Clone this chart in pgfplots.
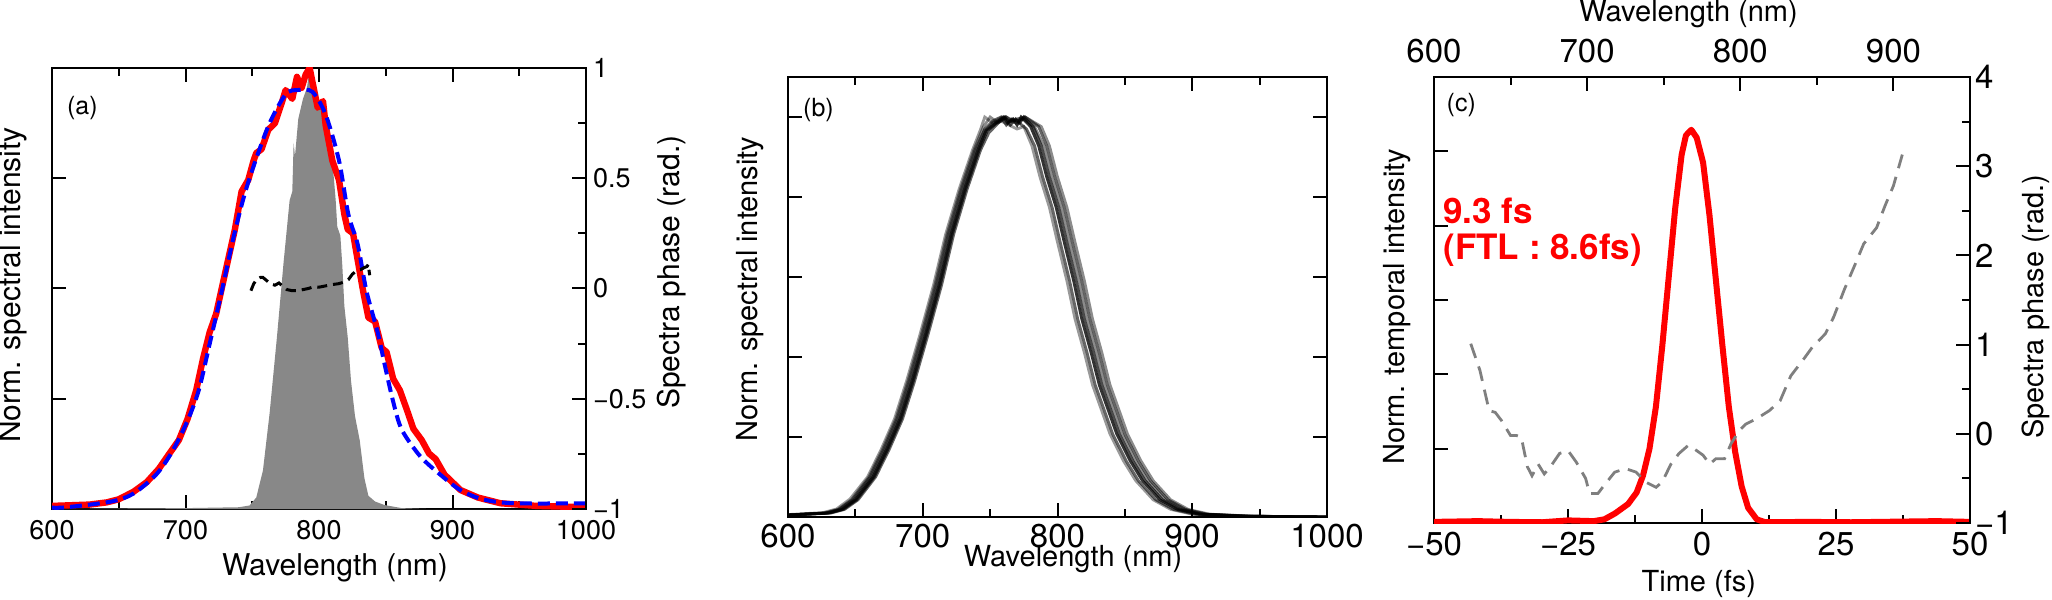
\documentclass[border=0pt]{standalone}
\usepackage{fontspec}
\setmainfont{TeX Gyre Heros}
\usepackage{pgfplots}
\pgfplotsset{compat=1.18}
\definecolor{fillgray}{HTML}{888888}
\definecolor{phasegray}{HTML}{7F7F7F}
\pgfplotsset{
  myaxis/.style={scale only axis, anchor=south west,
    axis line style={line width=1pt}, tick style={line width=1pt,black},
    major tick length=7pt, minor tick length=4pt, tick align=inside},
  bcurve/.style={black, line width=1.4pt, opacity=0.6},
}
\begin{document}
\begin{tikzpicture}
\path[use as bounding box] (0,0) rectangle (1026pt,300pt);

% ---------------- panel (a) ----------------
\begin{axis}[myaxis, at={(26pt,45.5pt)}, width=267pt, height=220.5pt,
  xmin=600, xmax=1000, ymin=0, ymax=1,
  xtick={600,700,800,900,1000}, xticklabels={600,700,800,900,1000},
  minor xtick={650,750,850,950},
  ytick={0.25,0.5,0.75}, yticklabels={}, ytick pos=left,
  xticklabel style={font=\fontsize{13.5}{14}\selectfont, yshift=-2pt},
  xlabel={Wavelength (nm)}, ylabel={Norm. spectral intensity},
  label style={font=\fontsize{15}{16}\selectfont},
  xlabel style={at={(axis description cs:0.53,-0.134)},anchor=center},
  ylabel style={at={(axis description cs:-0.073,0.508)},anchor=center},
]
\addplot[fill=fillgray, draw=none] coordinates {
(600,0) (700,0.002) (740,0.004) (748,0.008) (753,0.026) (758,0.087) (763,0.217)
(768.5,0.39) (773.5,0.56) (778,0.70) (780,0.72) (781,0.83) (782,0.80) (784.5,0.885)
(788,0.93) (791,0.955) (793,1.0) (795,0.98) (797,0.94) (798.7,0.93) (802,0.90)
(805,0.87) (808.7,0.81) (811,0.755) (812.5,0.70) (813.7,0.64) (816,0.62) (817.5,0.55)
(819,0.46) (821.5,0.39) (824,0.29) (827,0.21) (830.5,0.156) (834,0.07) (837,0.03)
(842,0.017) (849,0.009) (862,0.002) (880,0) (1000,0)} \closedcycle;
\addplot[red, line width=3.2pt, line join=round] coordinates {
(600,0.007) (628,0.010) (641,0.015) (650,0.022) (661,0.039) (671,0.061) (680,0.091)
(688,0.126) (695,0.156) (701.5,0.204) (708,0.269) (713,0.339) (718,0.40) (723,0.443)
(728,0.512) (733,0.58) (737,0.634) (742,0.72) (747,0.746) (751,0.79) (753,0.807)
(757,0.816) (762,0.86) (767,0.875) (772,0.92) (775,0.95) (780,0.93) (783.5,0.98)
(787,0.955) (790,0.985) (793,1.0) (796,0.955) (799,0.91) (803,0.925) (805,0.87)
(810,0.79) (815,0.746) (819,0.668) (821.5,0.634) (825.5,0.625) (829,0.564) (833,0.495)
(837,0.434) (842,0.425) (847,0.365) (850.6,0.356) (855.6,0.295) (860.6,0.269)
(865.7,0.226) (870.7,0.182) (877,0.156) (882.4,0.126) (887.4,0.113) (894,0.078)
(906,0.043) (919,0.026) (936,0.013) (963,0.007) (1000,0.004)};
\addplot[blue, line width=2pt, dash pattern=on 6pt off 3pt, smooth] coordinates {
(600,0.003) (611,0.004) (644.6,0.017) (661,0.035) (678,0.078) (690,0.13)
(701.5,0.20) (710,0.27) (718,0.373) (726.6,0.486) (736.7,0.625) (746.7,0.738)
(762,0.868) (775,0.94) (784,0.95) (795,0.946) (805,0.894) (815,0.79) (822,0.668)
(829,0.60) (835.5,0.495) (844,0.40) (849,0.33) (855.6,0.243) (862,0.18)
(875.7,0.12) (890.8,0.078) (905.9,0.043) (922.6,0.022) (946,0.013) (1000,0.013)};
\node[anchor=north west, inner sep=0pt, font=\fontsize{12.5}{13}\selectfont] at (axis cs:611,0.937) {(a)};
\end{axis}
\begin{axis}[myaxis, at={(26pt,45.5pt)}, width=267pt, height=220.5pt,
  xmin=600, xmax=1000, ymin=-1, ymax=1,
  axis x line=none, axis y line*=right,
  ytick={-1,-0.5,0,0.5,1}, yticklabels={−1,−0.5,0,0.5,1},
  minor ytick={-0.75,-0.25,0.25,0.75},
  yticklabel style={font=\fontsize{13.5}{14}\selectfont},
  ylabel={Spectra phase (rad.)},
  ylabel style={font=\fontsize{15}{16}\selectfont, at={(axis description cs:1.161,0.537)},anchor=center},
]
\addplot[black, line width=1.5pt, dash pattern=on 5pt off 3pt] coordinates {
(749,-0.01) (751,0.02) (753,0.04) (756,0.05) (758,0.05) (761,0.035) (764,0.02)
(767,0.015) (770,0.025) (773,0.01) (776,-0.005) (780,-0.01) (784,-0.01) (788,-0.005)
(792,0.0) (796,0.008) (800,0.006) (805,0.012) (810,0.018) (815,0.022) (819,0.03)
(822,0.04) (825,0.065) (828,0.08) (831,0.085) (834,0.095) (836,0.1) (837,0.11)
(837.5,0.08) (838,0.06)};
\end{axis}

% ---------------- panel (b) ----------------
\begin{axis}[myaxis, at={(394pt,41.5pt)}, width=269.5pt, height=220pt,
  xmin=600, xmax=1000, ymin=0, ymax=1.1,
  xtick={600,700,800,900,1000}, xticklabels={600,700,800,900,1000},
  minor xtick={650,750,850,950},
  ytick={0.2,0.4,0.6,0.8,1.0}, yticklabels={},
  xticklabel style={font=\fontsize{16.5}{17}\selectfont},
  xlabel={Wavelength (nm)}, ylabel={Norm. spectral intensity},
  label style={font=\fontsize{14.5}{15}\selectfont},
  xlabel style={at={(axis description cs:0.529,-0.095)},anchor=center},
  ylabel style={at={(axis description cs:-0.0705,0.518)},anchor=center},
]
\addplot[bcurve, opacity=0.4] coordinates {
(600,0.006) (626,0.011) (636,0.020) (646,0.045) (659,0.10) (669,0.168) (679,0.245)
(688,0.34) (698,0.457) (708,0.58) (717,0.707) (727,0.82) (737,0.918) (743,0.97)
(746,1.0) (752,0.985) (758,0.99) (764,0.98) (770,0.97) (775,0.976) (781,0.928)
(787,0.85) (794,0.774) (800,0.687) (807,0.59) (813,0.495) (820,0.41) (826,0.33)
(833,0.264) (839,0.207) (849,0.14) (858,0.091) (871,0.043) (884,0.019) (900,0.007)
(933,0.002) (1000,0)};
\addplot[bcurve, opacity=0.45] coordinates {
(600,0.005) (627,0.010) (637,0.019) (647,0.043) (660,0.10) (670,0.168) (680,0.245)
(689,0.34) (699,0.457) (709,0.58) (718,0.707) (728,0.82) (738,0.918) (745,0.975)
(750,1.0) (756,0.985) (762,1.0) (768,0.99) (775,0.995) (783,0.975) (790,0.928)
(796,0.85) (803,0.774) (809,0.687) (816,0.59) (822,0.495) (829,0.41) (835,0.33)
(842,0.264) (848,0.207) (858,0.14) (867,0.091) (880,0.043) (893,0.019) (909,0.007)
(942,0.002) (1000,0)};
\addplot[bcurve] coordinates {
(600,0.005) (628,0.010) (638,0.019) (648,0.043) (661,0.10) (671,0.168) (681,0.245)
(690,0.34) (700,0.457) (710,0.58) (719,0.707) (729,0.82) (739,0.918) (746,0.97)
(752,0.99) (758,1.0) (762,0.98) (766,0.995) (770,0.99) (777,0.97) (783,0.928)
(789,0.85) (796,0.774) (802,0.687) (809,0.59) (815,0.495) (822,0.41) (828,0.33)
(835,0.264) (841,0.207) (851,0.14) (860,0.091) (873,0.043) (886,0.019) (902,0.007)
(935,0.002) (1000,0)};
\addplot[bcurve] coordinates {
(600,0.004) (632,0.010) (642,0.019) (652,0.043) (665,0.10) (675,0.168) (685,0.245)
(694,0.34) (704,0.457) (714,0.58) (723,0.707) (733,0.82) (743,0.918) (749,0.96)
(756,0.985) (762,1.0) (766,0.99) (770,0.995) (776,1.0) (786,0.976) (792,0.928)
(798,0.85) (805,0.774) (811,0.687) (818,0.59) (824,0.495) (831,0.41) (837,0.33)
(844,0.264) (850,0.207) (860,0.14) (869,0.091) (882,0.043) (895,0.019) (911,0.007)
(944,0.002) (1000,0)};
\addplot[bcurve, opacity=0.45] coordinates {
(600,0.005) (629,0.010) (639,0.019) (649,0.043) (662,0.10) (672,0.168) (682,0.245)
(691,0.34) (701,0.457) (711,0.58) (720,0.707) (730,0.82) (740,0.918) (746,0.966)
(752,0.985) (759,1.0) (764,0.99) (770,0.985) (776,1.0) (788,0.976) (794,0.928)
(800,0.85) (807,0.774) (813,0.687) (820,0.59) (826,0.495) (833,0.41) (839,0.33)
(846,0.264) (852,0.207) (862,0.14) (871,0.091) (884,0.043) (897,0.019) (913,0.007)
(946,0.002) (1000,0)};
\addplot[bcurve, opacity=0.7] coordinates {
(600,0.005) (631,0.010) (641,0.019) (651,0.043) (664,0.10) (674,0.168) (684,0.245)
(693,0.34) (703,0.457) (713,0.58) (722,0.707) (732,0.82) (742,0.918) (748,0.966)
(755,0.985) (761,1.0) (765,0.98) (769,0.995) (772,0.985) (775,1.0) (782,0.976)
(788,0.928) (794,0.85) (801,0.774) (807,0.687) (814,0.59) (820,0.495) (827,0.41)
(833,0.33) (840,0.264) (846,0.207) (856,0.14) (865,0.091) (878,0.043) (891,0.019)
(907,0.007) (940,0.002) (1000,0)};
\addplot[bcurve, opacity=0.8] coordinates {
(600,0.005) (630,0.010) (640,0.019) (650,0.043) (663,0.10) (673,0.168) (683,0.245)
(692,0.34) (702,0.457) (712,0.58) (721,0.707) (731,0.82) (741,0.918) (747,0.966)
(754,0.985) (760,1.0) (763,0.985) (767,0.995) (770,0.98) (773,1.0) (780,0.976)
(786,0.928) (792,0.85) (799,0.774) (805,0.687) (812,0.59) (818,0.495) (825,0.41)
(831,0.33) (838,0.264) (844,0.207) (854,0.14) (863,0.091) (876,0.043) (889,0.019)
(905,0.007) (938,0.002) (1000,0)};
\node[anchor=north west, inner sep=0pt, font=\fontsize{12.5}{13}\selectfont] at (axis cs:611,1.0485) {(b)};
\end{axis}

% ---------------- panel (c) ----------------
\begin{axis}[myaxis, at={(717pt,38.5pt)}, width=268pt, height=223pt,
  xmin=-50, xmax=50, ymin=0, ymax=1.2,
  xtick={-50,-25,0,25,50}, xticklabels={−50,−25,0,25,50},
  minor xtick={-37.5,-12.5,12.5,37.5}, xtick pos=bottom,
  ytick={0.2,0.4,0.6,0.8,1.0}, yticklabels={}, ytick pos=left,
  xticklabel style={font=\fontsize{16.5}{17}\selectfont, yshift=-1pt},
  xlabel={Time (fs)}, ylabel={Norm. temporal intensity},
  label style={font=\fontsize{14.5}{15}\selectfont},
  xlabel style={at={(axis description cs:0.494,-0.136)},anchor=center},
  ylabel style={at={(axis description cs:-0.069,0.485)},anchor=center},
]
\addplot[red, line width=3pt, line join=round] coordinates {
(-50,0.003) (-41.8,0.005) (-36,0.003) (-29.8,0.002) (-25,0.007) (-20.2,0.005)
(-18.2,0.01) (-16.2,0.026) (-13.8,0.051) (-12.2,0.082) (-11,0.128) (-9.8,0.2)
(-8.6,0.313) (-7.4,0.478) (-6.2,0.663) (-5,0.847) (-3.8,0.991) (-3,1.043) (-2,1.058)
(-1,1.037) (0.2,0.97) (1.4,0.827) (2.6,0.652) (3.8,0.478) (5,0.313) (6.2,0.19)
(7.4,0.098) (8.6,0.041) (10.2,0.01) (11.8,0.002) (19.8,0.003) (27.8,0.002)
(43.8,0.005) (50,0.003)};
\node[anchor=north west, inner sep=0pt, font=\fontsize{12.5}{13}\selectfont] at (axis cs:-47.7,1.158) {(c)};
\node[anchor=north west, inner sep=0pt, align=left, text=red, font=\bfseries\fontsize{17.5}{18}\selectfont] at (axis cs:-48.3,0.875) {9.3 fs\\(FTL : 8.6fs)};
\end{axis}
\begin{axis}[myaxis, at={(717pt,38.5pt)}, width=268pt, height=223pt,
  xmin=600, xmax=950, ymin=-1, ymax=4,
  axis x line*=top, axis y line*=right,
  xtick={600,700,800,900}, xticklabels={600,700,800,900},
  minor xtick={650,750,850,950},
  ytick={-1,0,1,2,3,4}, yticklabels={−1,0,1,2,3,4},
  minor ytick={-0.5,0.5,1.5,2.5,3.5},
  xticklabel style={font=\fontsize{16.5}{17}\selectfont, yshift=3.5pt},
  yticklabel style={font=\fontsize{16.5}{17}\selectfont, xshift=-1pt},
  xlabel={Wavelength (nm)}, ylabel={Spectra phase (rad.)},
  label style={font=\fontsize{14.5}{15}\selectfont},
  xlabel style={at={(axis description cs:0.475,1.14)},anchor=center},
  ylabel style={at={(axis description cs:1.123,0.485)},anchor=center},
]
\addplot[phasegray, line width=1.4pt, dash pattern=on 7.5pt off 4.5pt] coordinates {
(624,1.01) (630,0.71) (636,0.26) (640,0.24) (644,0.15) (650,-0.02) (654,-0.02)
(657,-0.04) (661,-0.37) (664,-0.47) (668,-0.34) (672,-0.45) (676,-0.37) (682,-0.22)
(687.6,-0.19) (693,-0.32) (699,-0.5) (701.6,-0.67) (707,-0.67) (711,-0.58) (718,-0.43)
(725,-0.39) (732,-0.43) (738,-0.54) (745,-0.6) (749,-0.54) (754.7,-0.34) (760,-0.22)
(766,-0.13) (770,-0.17) (775.7,-0.24) (780,-0.34) (784,-0.28) (789.7,-0.28)
(794,-0.11) (799.5,0.04) (803.7,0.11) (810.7,0.17) (819,0.26) (826,0.37) (833,0.65)
(841.5,0.84) (847,0.97) (855.5,1.12) (861,1.31) (868,1.62) (875,1.9) (880.6,2.13)
(889,2.31) (894.6,2.56) (900,2.78) (905.8,3.13)};
\end{axis}
\end{tikzpicture}
\end{document}
